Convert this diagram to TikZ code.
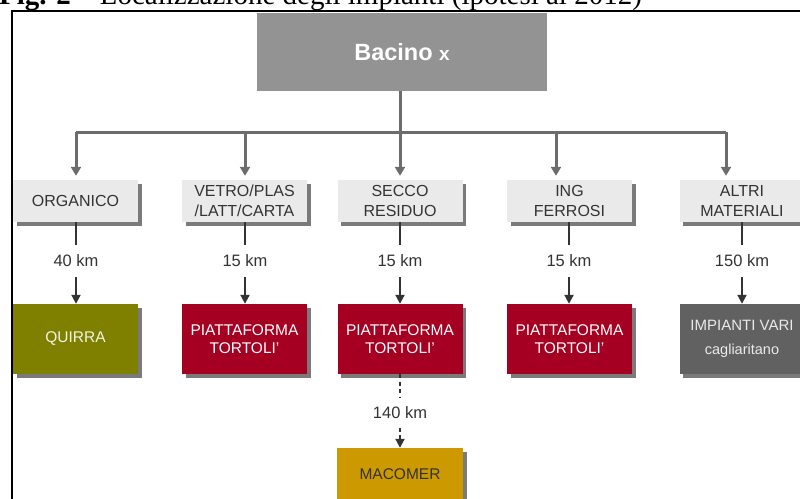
\documentclass[tikz,border=0pt]{standalone}
\usepackage{fontspec}
\setmainfont{Liberation Sans}
\newfontfamily\titlefont{Liberation Serif}
\usetikzlibrary{arrows.meta,shadows}
\definecolor{bacfill}{HTML}{939393}
\definecolor{catfill}{HTML}{EAEAEA}
\definecolor{shadowcol}{HTML}{7A7A7A}
\definecolor{olivebox}{HTML}{808000}
\definecolor{redbox}{HTML}{A50021}
\definecolor{impgray}{HTML}{616161}
\definecolor{macbox}{HTML}{CC9900}
\definecolor{busgray}{HTML}{6C6C6C}
\definecolor{darktxt}{HTML}{333333}
\definecolor{lighttxt}{HTML}{F2F2E6}
\tikzset{
  shadowed/.style={drop shadow={shadow xshift=3.5pt,shadow yshift=-3.5pt,fill=shadowcol,opacity=1}},
  catbox/.style={shadowed,fill=catfill,text=darktxt,minimum width=125pt,minimum height=42pt,inner sep=0pt,align=center,font=\fontsize{16}{20}\selectfont},
  destbox/.style={shadowed,minimum width=125pt,minimum height=70pt,inner sep=0pt,align=center,font=\fontsize{15.5}{17.5}\selectfont},
  kmlabel/.style={text=darktxt,minimum height=32pt,inner sep=0pt,font=\fontsize{16.5}{18}\selectfont},
  bus/.style={draw=busgray,line width=3pt},
  busarrow/.style={bus,-{Triangle[width=10pt,length=9pt]},shorten >=4pt},
  link/.style={draw=darktxt,line width=2pt},
  linkarrow/.style={link,-{Triangle[width=9pt,length=9pt]}},
  dashlink/.style={link,dash pattern=on 4pt off 3.5pt},
}
\begin{document}
\begin{tikzpicture}[x=1pt,y=-1pt]
\useasboundingbox (0,0) rectangle (800,498);
\clip (0,0) rectangle (800,498);
% title (cut at top, as in the reference)
\node[anchor=base west,inner sep=0pt,font=\titlefont\fontsize{29}{32}\selectfont] (title) at (-1,4.5) {\textbf{Fig. 2} – Localizzazione degli impianti (ipotesi al 2012)};
% frame
\coordinate (frameTL) at (12,11);
\coordinate (frameTR) at (801,11);
\coordinate (frameBL) at (12,499);
\draw[line width=2pt] (frameBL) -- (frameTL) -- (frameTR);
% top box
\node[fill=bacfill,text=white,minimum width=290pt,minimum height=78pt,inner sep=0pt] (bacino) at (402,52)
  {\fontsize{23.5}{28}\selectfont\bfseries Bacino \fontsize{19}{28}\selectfont x};
% category boxes
\node[catbox] (org) at (75.5,201) {ORGANICO};
\node[catbox] (vet) at (244.5,201) {VETRO/PLAS\\/LATT/CARTA};
\node[catbox] (sec) at (400,201) {SECCO\\RESIDUO};
\node[catbox] (ing) at (569.5,201) {ING\\FERROSI};
\node[catbox] (alt) at (742,201) {ALTRI\\MATERIALI};
% bus
\coordinate (busL) at (76,132);
\coordinate (busV) at (245,132);
\coordinate (busI) at (556,132);
\coordinate (busR) at (726,132);
\draw[bus] (busL) -- (busR);
\draw[busarrow] (bacino.south -| sec.north) -- (sec.north);
\draw[busarrow] (busL) -- (busL |- org.north);
\draw[busarrow] (busV) -- (busV |- vet.north);
\draw[busarrow] (busI) -- (busI |- ing.north);
\draw[busarrow] (busR) -- (busR |- alt.north);
% km labels
\node[kmlabel] (km1) at (76,261) {40 km};
\node[kmlabel] (km2) at (245,261) {15 km};
\node[kmlabel] (km3) at (400,261) {15 km};
\node[kmlabel] (km4) at (569,261) {15 km};
\node[kmlabel] (km5) at (742,261) {150 km};
% destination boxes
\node[destbox,fill=olivebox,text=lighttxt] (quirra) at (75.5,339) {QUIRRA};
\node[destbox,fill=redbox,text=white] (tor1) at (244.5,339) {PIATTAFORMA\\TORTOLI'};
\node[destbox,fill=redbox,text=white] (tor2) at (400,339) {PIATTAFORMA\\TORTOLI'};
\node[destbox,fill=redbox,text=white] (tor3) at (569.5,339) {PIATTAFORMA\\TORTOLI'};
\node[destbox,fill=impgray,text=catfill,font=\fontsize{15}{24}\selectfont] (imp) at (742,339) {IMPIANTI VARI\\{\fontsize{14.5}{24}\selectfont cagliaritano}};
% column links
\draw[link] (org.south -| km1.north) -- (km1.north);
\draw[linkarrow] (km1.south) -- (km1.south |- quirra.north);
\draw[link] (vet.south -| km2.north) -- (km2.north);
\draw[linkarrow] (km2.south) -- (km2.south |- tor1.north);
\draw[link] (sec.south -| km3.north) -- (km3.north);
\draw[linkarrow] (km3.south) -- (km3.south |- tor2.north);
\draw[link] (ing.south -| km4.north) -- (km4.north);
\draw[linkarrow] (km4.south) -- (km4.south |- tor3.north);
\draw[link] (alt.south -| km5.north) -- (km5.north);
\draw[linkarrow] (km5.south) -- (km5.south |- imp.north);
% macomer
\node[kmlabel,minimum height=29pt] (km6) at (400,413) {140 km};
\node[shadowed,fill=macbox,text=darktxt,minimum width=126pt,minimum height=52pt,inner sep=0pt,font=\fontsize{15.5}{17}\selectfont] (mac) at (400,474) {MACOMER};
\draw[dashlink] (tor2.south) -- (km6.north);
\draw[dashlink,-{Triangle[width=9pt,length=9pt]}] (km6.south) -- (mac.north);
\end{tikzpicture}
\end{document}
